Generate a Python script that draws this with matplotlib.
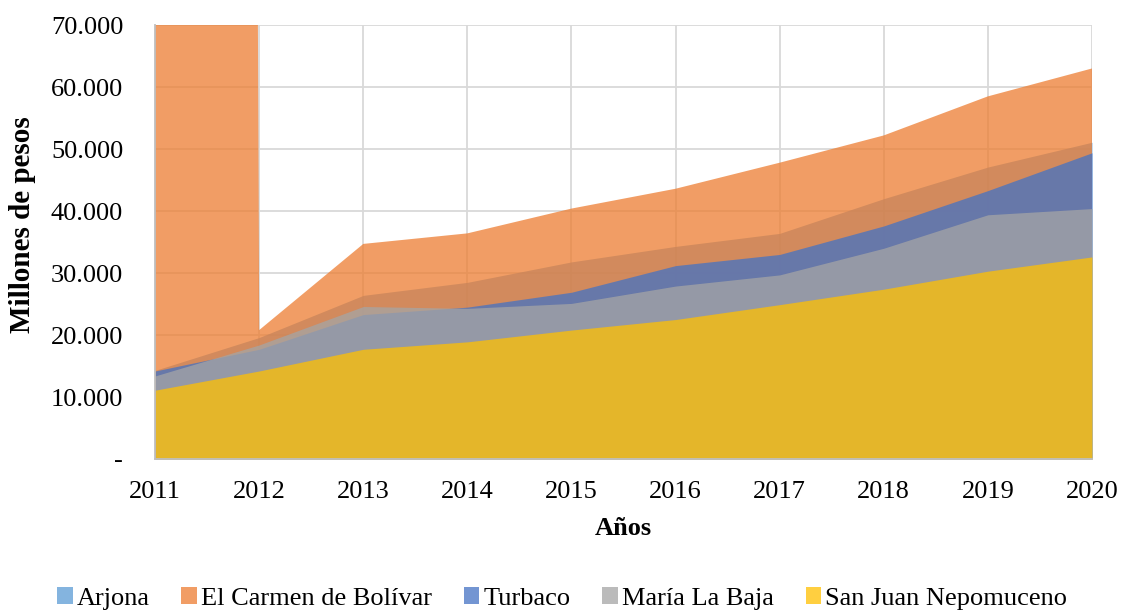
import matplotlib.pyplot as plt
from matplotlib.patches import Patch
from matplotlib.ticker import FuncFormatter

plt.rcParams['font.family'] = ['Liberation Serif', 'DejaVu Serif']

# Data (millones de pesos)
years = [2011, 2012, 2013, 2014, 2015, 2016, 2017, 2018, 2019, 2020]
arjona = [14300, 19600, 26400, 28500, 31800, 34300, 36400, 42000, 47100, 51100]
el_carmen = [4000000, 20800, 34700, 36400, 40400, 43600, 47800, 52200, 58500, 63000]
turbaco = [14200, 17700, 23300, 24500, 26900, 31200, 33000, 37600, 43300, 49400]
maria_la_baja = [13400, 18400, 24600, 24300, 25100, 27900, 29700, 34000, 39400, 40400]
san_juan = [11100, 14200, 17700, 18900, 20800, 22500, 24900, 27400, 30300, 32600]

names = ['Arjona', 'El Carmen de Bolívar', 'Turbaco', 'María La Baja', 'San Juan Nepomuceno']
series = [arjona, el_carmen, turbaco, maria_la_baja, san_juan]
colors = ['#5B9BD5', '#ED7D31', '#4472C4', '#A5A5A5', '#FFC000']

fig = plt.figure(figsize=(11.24, 6.12), dpi=100)
ax = fig.add_axes([0.138, 0.25, 0.8335, 0.709])

# overlapping (not stacked) areas, drawn back to front
for vals, c in zip(series, colors):
    ax.fill_between(years, 0, vals, color=c, alpha=0.75, linewidth=0)

ax.set_xlim(2011, 2020)
ax.set_ylim(0, 70000)
ax.set_xticks(years)
ax.set_yticks(range(0, 70001, 10000))

def fmt(v, pos):
    if v == 0:
        return '-'
    return f'{int(v):,}'.replace(',', '.')

ax.yaxis.set_major_formatter(FuncFormatter(fmt))
ax.tick_params(axis='both', length=0, labelsize=19)
ax.tick_params(axis='x', pad=16)
ax.tick_params(axis='y', pad=23)

ax.grid(True, color='#D9D9D9', linewidth=1.3)
ax.set_axisbelow(True)
for s in ['top', 'right']:
    ax.spines[s].set_visible(False)
for s in ['left', 'bottom']:
    ax.spines[s].set_color('#BFBFBF')
    ax.spines[s].set_linewidth(1.3)

ax.set_xlabel('Años', fontsize=19, fontweight='bold', labelpad=10)
ax.set_ylabel('Millones de pesos', fontsize=21, fontweight='bold')
ax.yaxis.set_label_coords(-0.127, 0.54)

handles = [Patch(facecolor=c, alpha=0.75, linewidth=0) for c in colors]
fig.legend(handles, names, loc='center', bbox_to_anchor=(0.5, 0.022), ncol=5,
           frameon=False, fontsize=19, handlelength=0.6, handleheight=0.6,
           handletextpad=0.15, columnspacing=1.2)

fig.savefig('out.png', dpi=100)
